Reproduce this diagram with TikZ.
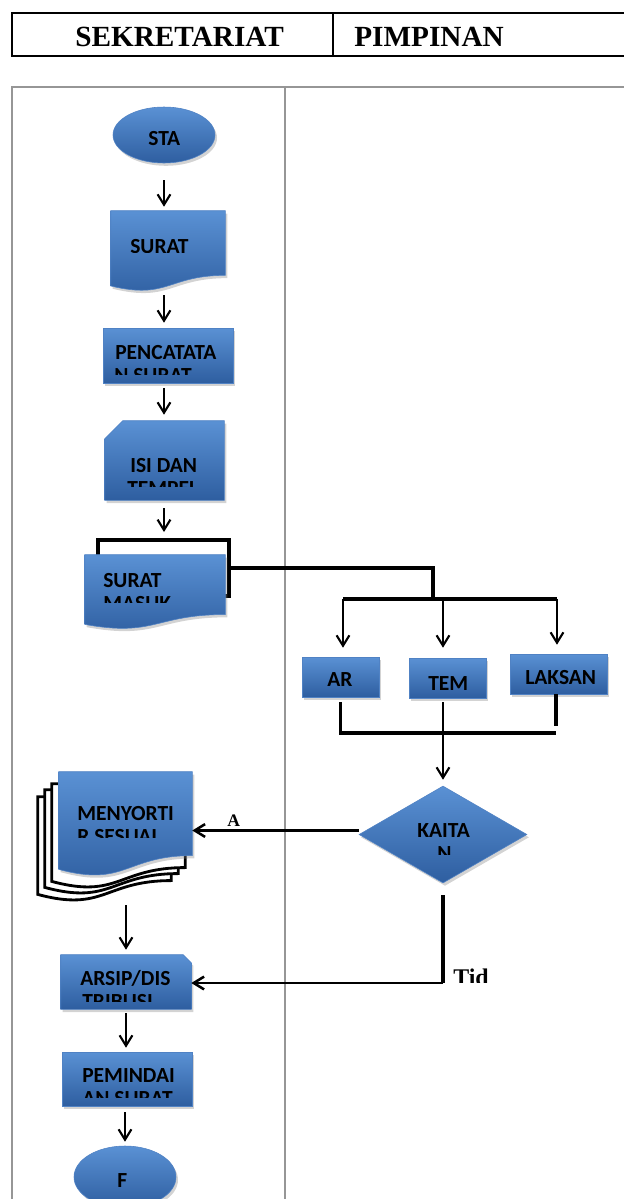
\documentclass[tikz,border=0pt]{standalone}
\usepackage{fontspec}
\setmainfont{Liberation Serif}
\newfontfamily\boxfont{Carlito}
\usetikzlibrary{shapes.geometric,arrows.meta,calc,shadows}

\definecolor{shapetop}{RGB}{90,145,212}
\definecolor{shapebot}{RGB}{46,94,160}
\definecolor{shapeedge}{RGB}{80,130,196}
\definecolor{lanegray}{RGB}{150,150,150}
\newcommand\pxu{0.025cm}

\tikzset{
  size/.style 2 args={minimum width=#1*\pxu, minimum height=#2*\pxu},
  blue shape/.style={top color=shapetop, bottom color=shapebot, draw=shapeedge, line width=0.4pt,
    drop shadow={shadow xshift=0.5mm, shadow yshift=-0.7mm, opacity=0.35}},
  terminal/.style={blue shape, ellipse, inner sep=0pt},
  process/.style={blue shape, rectangle, inner sep=0pt},
  decision/.style={blue shape, diamond, inner sep=0pt},
  frame/.style={rectangle, inner sep=0pt},
  boxtext/.style={font=\boxfont\bfseries\fontsize{15.3}{17}\selectfont, inner sep=0pt, anchor=base west},
  headtext/.style={font=\bfseries\fontsize{20.8}{24}\selectfont, inner sep=0pt, anchor=base west},
  labeltext/.style={font=\bfseries\fontsize{12.5}{14}\selectfont, inner sep=0pt, anchor=base west},
  flow/.style={line width=1.5pt, -{Straight Barb[length=2.6mm,width=3.2mm]}},
  heavy/.style={line width=2.6pt},
  lane/.style={draw=lanegray, line width=0.8pt},
}

% document shape (wavy bottom) on a frame node
\newcommand\docshape[2]{%
  \path[#1] (#2.north west) -- (#2.north east)
    -- ($(#2.north east)!0.802!(#2.south east)$)
    .. controls ($(#2.north)!0.802!(#2.south)$) and ($(#2.north)!1.107!(#2.south)$)
    .. ($(#2.north west)!0.934!(#2.south west)$) -- cycle;}

% text line cut off at a given height
\newcommand\cuttext[5][boxtext]{%
  \begin{scope}
    \clip (0,0) rectangle (624,#5);
    \node[#1] (#2) at #3 {#4};
  \end{scope}}

\begin{document}
\begin{tikzpicture}[x=\pxu, y=-\pxu]
  \useasboundingbox (0,0) rectangle (624,1199);

  % lanes
  \draw[lane] (12,1210) -- (12,87) -- (640,87);
  \draw[lane] (285,87) -- (285,1210);

  % header
  \draw[line width=2pt] (640,13) -- (12,13) -- (12,56) -- (640,56);
  \draw[line width=2pt] (333,13) -- (333,56);
  \node[headtext] (sekretariat) at (75,46) {SEKRETARIAT};
  \node[headtext] (pimpinan) at (354,46) {PIMPINAN};

  % sekretariat column
  \node[terminal, size={102}{56}] (sta) at (164,135) {};
  \node[frame, size={114}{80}] (surat) at (168,251) {};
  \docshape{blue shape}{surat}
  \node[process, size={130}{55}] (pencatatan) at (168,355.5) {};
  \node[frame, size={119}{79}] (isi) at (164.5,460.5) {};
  \shade[blue shape] ([yshift=-4.5mm]isi.north west) -- ([xshift=4.5mm]isi.north west)
    -- (isi.north east) -- (isi.south east) -- (isi.south west) -- cycle;

  \coordinate (split) at (433,599);
  \coordinate (splitl) at (343,599);
  \coordinate (splitm) at (443,599);
  \coordinate (splitr) at (557,599);
  \node[frame, draw, line width=2.8pt, size={131}{56}] (masukline) at (163.5,568) {};
  \draw[heavy] (masukline.east) -| (split);
  \node[frame, size={140}{74}] (masuk) at (155,592) {};
  \docshape{blue shape}{masuk}

  % pimpinan column
  \draw[line width=2.3pt] (splitl) -- (splitr);
  \node[process, size={77}{40}] (ar) at (340.5,677) {};
  \node[process, size={77}{40}] (tem) at (447.5,678) {};
  \node[process, size={97}{40}] (laksan) at (558.5,674) {};
  \draw[flow, shorten >=2.25mm] (splitl) -- (splitl |- ar.north);
  \draw[flow, shorten >=2.5mm] (splitm) -- (splitm |- tem.north);
  \draw[flow, shorten >=2.25mm] (splitr) -- (splitr |- laksan.north);

  \coordinate (joinr) at (556,733);
  \coordinate (laksanend) at (556,726);
  \draw[heavy, shorten <=1.25mm] (ar.south) |- (joinr);
  \draw[heavy] (laksanend |- laksan.south) -- (laksanend);
  \node[decision, size={168}{97}] (kaitan) at (443,834.5) {};
  \draw[flow, shorten <=1mm, shorten >=1.5mm] (tem.south -| splitm) -- (splitm |- kaitan.north);

  % sorting stack
  \node[frame, size={133}{104}] (menyortir3) at (104.5,849) {};
  \node[frame, size={133}{104}] (menyortir2) at (111.5,842) {};
  \node[frame, size={133}{104}] (menyortir1) at (118.5,836) {};
  \node[frame, size={133}{104}] (menyortir) at (125.5,824) {};
  \docshape{draw=black, line width=2pt, fill=white}{menyortir3}
  \docshape{draw=black, line width=2pt, fill=white}{menyortir2}
  \docshape{draw=black, line width=2pt, fill=white}{menyortir1}
  \docshape{blue shape}{menyortir}

  \node[frame, size={130}{54}] (arsip) at (126,982) {};
  \shade[blue shape] (arsip.north west) -- ([xshift=-2mm]arsip.north east)
    -- ([yshift=-2mm]arsip.north east) -- (arsip.south east) -- (arsip.south west) -- cycle;
  \node[process, size={130}{54}] (pemindaian) at (127,1079) {};
  \node[terminal, size={102}{62}] (f) at (125,1177) {};

  % decision branches
  \draw[flow, line width=1.8pt] ([yshift=1mm]kaitan.west) -- ([yshift=1mm]kaitan.west -| menyortir.east);
  \node[labeltext] (ya) at (227,826) {A};
  \coordinate (tidak) at (443,983);
  \draw[heavy, shorten <=3mm] (kaitan.south) -- (tidak);
  \draw[flow, line width=1.8pt] (tidak) -- (tidak -| arsip.east);
  \cuttext[labeltext, font=\bfseries\fontsize{17}{20}\selectfont]{tid}{(453,985)}{Tid}{982}

  % main flow
  \draw[flow, shorten <=4.25mm, shorten >=1mm] (sta) -- (sta |- surat.north);
  \draw[flow, shorten <=1mm, shorten >=1.25mm] (surat.south -| sta) -- (sta |- pencatatan.north);
  \draw[flow, shorten <=1.25mm, shorten >=1.5mm] (pencatatan.south -| sta) -- (sta |- isi.north);
  \draw[flow, shorten <=2mm, shorten >=1.5mm] (isi.south -| sta) -- (sta |- masukline.north);
  \draw[flow, shorten <=7.25mm, shorten >=1.25mm] (menyortir.south -| arsip) -- (arsip.north);
  \draw[flow, shorten <=1mm, shorten >=1mm] (arsip.south) -- (arsip.south |- pemindaian.north);
  \draw[flow, shorten <=1.5mm, shorten >=1mm] (pemindaian.south -| f) -- (f.north);

  % texts
  \node[boxtext] (sta-t) at (148,145) {STA};
  \cuttext{surat-t}{(130,253)}{SURAT}{252}
  \node[boxtext] (pencatatan-a) at (115,359) {PENCATATA};
  \cuttext{pencatatan-b}{(114,382)}{N SURAT}{374}
  \node[boxtext] (isi-a) at (130,472) {ISI DAN};
  \cuttext{isi-b}{(127,495)}{TEMPEL}{486}
  \node[boxtext] (masuk-a) at (103,587) {SURAT};
  \cuttext{masuk-b}{(103,610)}{MASUK}{602}
  \node[boxtext] (ar-t) at (327,686) {AR};
  \cuttext{tem-t}{(428,690)}{TEM}{689}
  \node[boxtext] (laksan-t) at (525,684) {LAKSAN};
  \node[boxtext] (kaitan-a) at (417,837) {KAITA};
  \cuttext{kaitan-b}{(437,860)}{N}{854}
  \node[boxtext] (menyortir-a) at (77,820) {MENYORTI};
  \cuttext{menyortir-b}{(77,843)}{R SESUAI}{837}
  \node[boxtext] (arsip-a) at (80,985) {ARSIP/DIS};
  \cuttext{arsip-b}{(82,1008)}{TRIBUSI}{1001}
  \node[boxtext] (pemindaian-a) at (82,1082) {PEMINDAI};
  \cuttext{pemindaian-b}{(82,1105)}{AN SURAT}{1097}
  \node[boxtext] (f-t) at (117,1187) {F};
\end{tikzpicture}
\end{document}
